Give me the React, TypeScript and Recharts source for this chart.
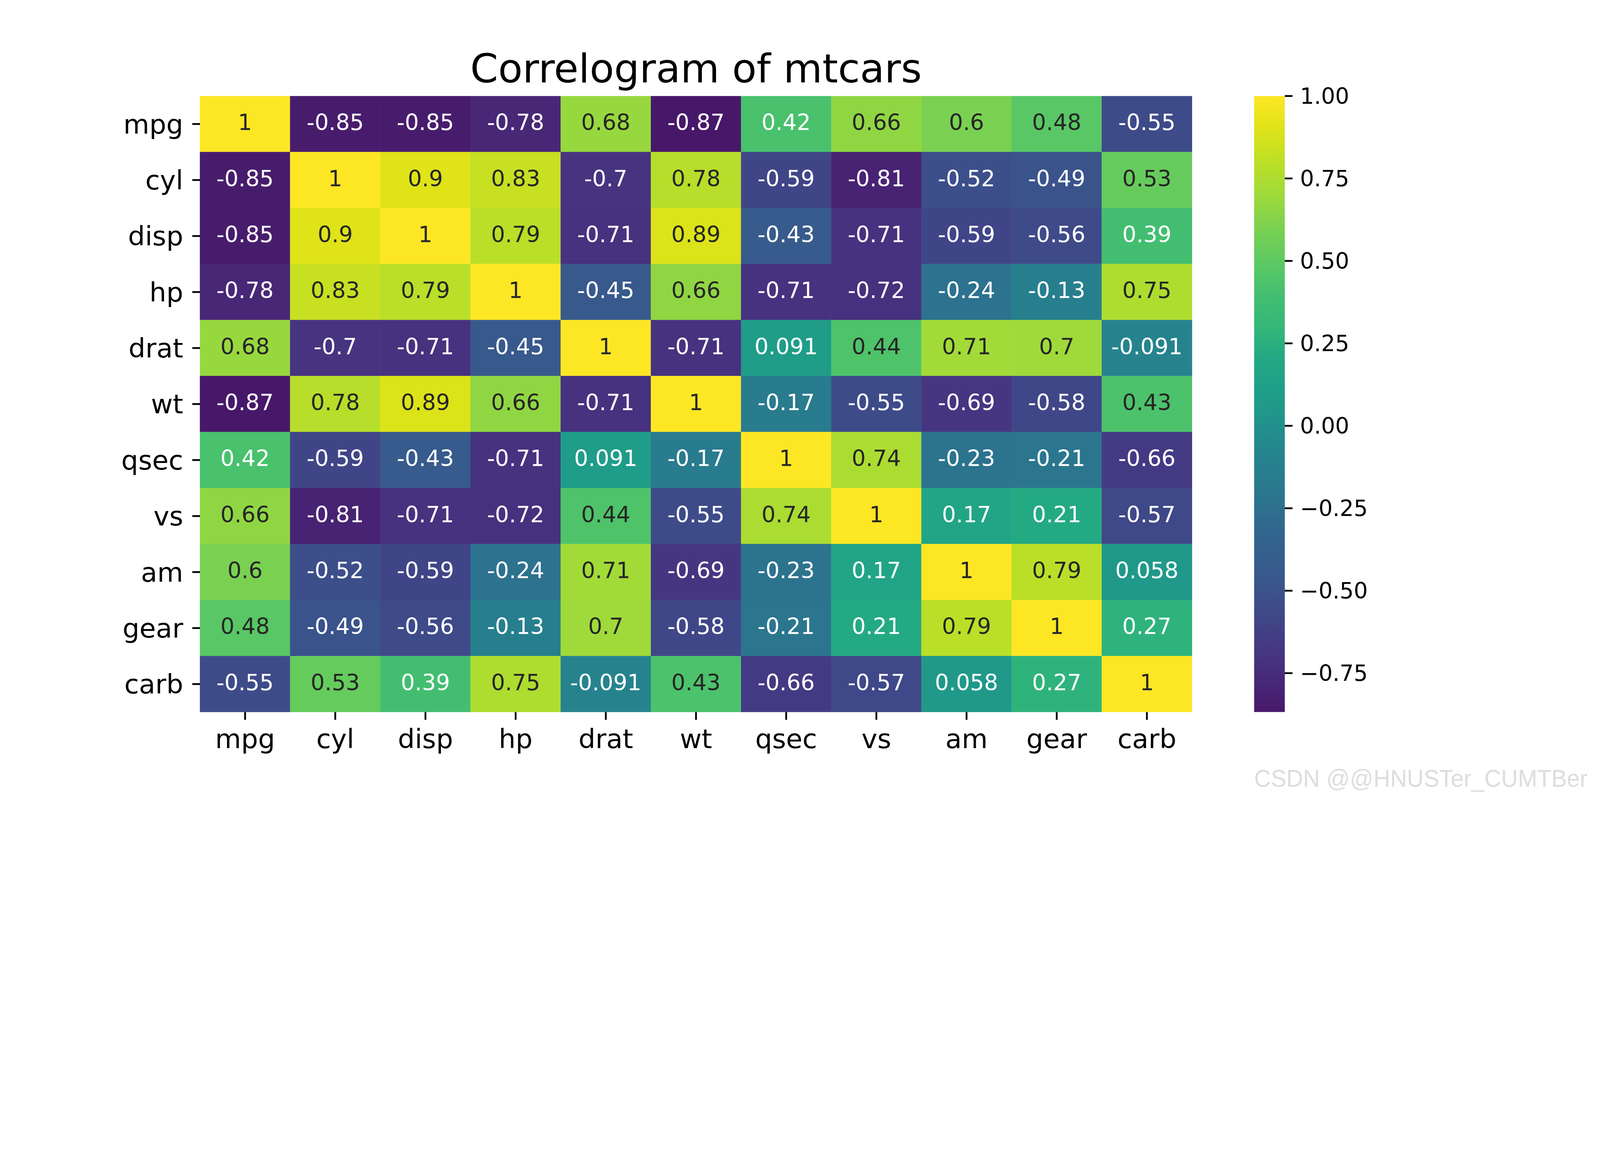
import React from 'react';
import { BarChart, Bar, XAxis, YAxis } from 'recharts';

// variable names, same order for rows and columns
const labels = ['mpg', 'cyl', 'disp', 'hp', 'drat', 'wt', 'qsec', 'vs', 'am', 'gear', 'carb'];

// correlation rows as printed in the cells
const mpgRow = [1, -0.85, -0.85, -0.78, 0.68, -0.87, 0.42, 0.66, 0.6, 0.48, -0.55];
const cylRow = [-0.85, 1, 0.9, 0.83, -0.7, 0.78, -0.59, -0.81, -0.52, -0.49, 0.53];
const dispRow = [-0.85, 0.9, 1, 0.79, -0.71, 0.89, -0.43, -0.71, -0.59, -0.56, 0.39];
const hpRow = [-0.78, 0.83, 0.79, 1, -0.45, 0.66, -0.71, -0.72, -0.24, -0.13, 0.75];
const dratRow = [0.68, -0.7, -0.71, -0.45, 1, -0.71, 0.091, 0.44, 0.71, 0.7, -0.091];
const wtRow = [-0.87, 0.78, 0.89, 0.66, -0.71, 1, -0.17, -0.55, -0.69, -0.58, 0.43];
const qsecRow = [0.42, -0.59, -0.43, -0.71, 0.091, -0.17, 1, 0.74, -0.23, -0.21, -0.66];
const vsRow = [0.66, -0.81, -0.71, -0.72, 0.44, -0.55, 0.74, 1, 0.17, 0.21, -0.57];
const amRow = [0.6, -0.52, -0.59, -0.24, 0.71, -0.69, -0.23, 0.17, 1, 0.79, 0.058];
const gearRow = [0.48, -0.49, -0.56, -0.13, 0.7, -0.58, -0.21, 0.21, 0.79, 1, 0.27];
const carbRow = [-0.55, 0.53, 0.39, 0.75, -0.091, 0.43, -0.66, -0.57, 0.058, 0.27, 1];

const corr = [mpgRow, cylRow, dispRow, hpRow, dratRow, wtRow, qsecRow, vsRow, amRow, gearRow, carbRow];

// colour bar range and ticks
const VMIN = -0.868;
const VMAX = 1;
const cbTicks = [-0.75, -0.5, -0.25, 0, 0.25, 0.5, 0.75, 1];

// colormap is centred on 0, so colours run over [-1, 1]
const CMAP_LO = -1;
const CMAP_HI = 1;

// viridis, sampled every 0.05
const viridis = [
  '#440154', '#471365', '#482475', '#463480', '#414487', '#3b528b', '#355f8d',
  '#31688e', '#2a788e', '#26828e', '#21918c', '#1f9e89', '#22a884', '#35b779',
  '#44bf70', '#5ec962', '#7ad151', '#9fda3a', '#bddf26', '#dfe318', '#fde725',
];

const hexToRgb = (h: string) => [1, 3, 5].map((i) => parseInt(h.slice(i, i + 2), 16));

const colorFor = (v: number) => {
  let t = (v - CMAP_LO) / (CMAP_HI - CMAP_LO);
  t = Math.max(0, Math.min(1, t));
  const pos = t * (viridis.length - 1);
  const i = Math.min(Math.floor(pos), viridis.length - 2);
  const f = pos - i;
  const a = hexToRgb(viridis[i]);
  const b = hexToRgb(viridis[i + 1]);
  const c = a.map((x, k) => Math.round(x + (b[k] - x) * f));
  return `rgb(${c[0]},${c[1]},${c[2]})`;
};

// gradient stops for the colour bar, bottom (VMIN) to top (VMAX)
const CB_STEPS = 40;
const cbStops = Array.from({ length: CB_STEPS + 1 }, (_, i) => {
  const f = i / CB_STEPS;
  return { offset: f, color: colorFor(VMIN + (VMAX - VMIN) * f) };
});

// light cells get dark numbers
const DARK_TEXT_FROM = 0.425;

const FONT = '"DejaVu Sans", sans-serif';

const heatData = labels.map((col) => {
  const d: any = { name: col };
  labels.forEach((r) => { d[r] = 1; });
  return d;
});

const cbData = [{ name: 'cb', range: [VMIN, VMAX] }];

const makeCell = (rowIdx: number) => (props: any) => {
  const { x, y, width, height, index } = props;
  const v = corr[rowIdx][index];
  const fill = colorFor(v);
  const top = Math.min(y, y + height);
  const h = Math.abs(height);
  return (
    <g>
      <rect x={x} y={top} width={width} height={h} fill={fill} stroke={fill} strokeWidth={1} />
      <text
        x={x + width / 2}
        y={top + h / 2 + 23}
        textAnchor="middle"
        fontSize={83}
        fontFamily={FONT}
        fill={v > DARK_TEXT_FROM ? '#262626' : '#ffffff'}
      >
        {String(v)}
      </text>
    </g>
  );
};

const fmtCb = (v: number) => v.toFixed(2).replace('-', '\u2212');

export default function App() {
  // the browser may be narrower than 6000px, so shrink the whole figure to fit
  const vw = typeof window !== 'undefined' ? window.innerWidth : 6000;
  const vh = typeof window !== 'undefined' ? window.innerHeight : 3000;
  const s = Math.min(1, vw / 6000, vh / 3000);
  return (
    <div style={{ position: 'absolute', left: 0, top: 0, width: 6000 * s, height: 3000 * s, overflow: 'hidden', background: '#fff' }}>
      <div style={{ position: 'absolute', left: 0, top: 0, width: 6000, height: 3000, transform: `scale(${s})`, transformOrigin: '0 0', fontFamily: FONT }}>
        <div style={{ position: 'absolute', left: 0, top: 0 }}>
          <BarChart
            width={6000}
            height={3000}
            data={heatData}
            margin={{ top: 360, right: 1530, bottom: 0, left: 0 }}
            barCategoryGap={0}
            barGap={0}
          >
            <XAxis
              dataKey="name"
              type="category"
              interval={0}
              height={330}
              axisLine={false}
              tickSize={29}
              tickMargin={35}
              tickLine={{ stroke: '#000', strokeWidth: 6.7 }}
              tick={{ fontSize: 100, fill: '#000', fontFamily: FONT }}
            />
            <YAxis
              type="number"
              domain={[0, labels.length]}
              reversed
              allowDataOverflow
              ticks={labels.map((_, i) => i + 0.5)}
              interval={0}
              tickFormatter={(v: number) => labels[Math.floor(v)]}
              width={750}
              axisLine={false}
              tickSize={29}
              tickMargin={34}
              tickLine={{ stroke: '#000', strokeWidth: 6.7 }}
              tick={{ fontSize: 100, fill: '#000', fontFamily: FONT }}
            />
            {labels.map((r, j) => (
              <Bar key={r} dataKey={r} stackId="a" isAnimationActive={false} shape={makeCell(j)} />
            ))}
          </BarChart>
        </div>

        <div style={{ position: 'absolute', left: 0, top: 0 }}>
          <BarChart
            width={6000}
            height={3000}
            data={cbData}
            margin={{ top: 360, right: 0, bottom: 330, left: 4703 }}
            barCategoryGap={0}
          >
            <defs>
              <linearGradient id="viridisGrad" x1="0" y1="1" x2="0" y2="0">
                {cbStops.map((st, i) => (
                  <stop key={i} offset={st.offset} stopColor={st.color} />
                ))}
              </linearGradient>
            </defs>
            <XAxis dataKey="name" hide />
            <YAxis
              type="number"
              orientation="right"
              domain={[VMIN, VMAX]}
              allowDataOverflow
              ticks={cbTicks}
              interval={0}
              tickFormatter={fmtCb}
              width={1182}
              axisLine={false}
              tickSize={29}
              tickMargin={28}
              tickLine={{ stroke: '#000', strokeWidth: 6.7 }}
              tick={{ fontSize: 83, fill: '#000', fontFamily: FONT }}
            />
            <Bar dataKey="range" fill="url(#viridisGrad)" isAnimationActive={false} />
          </BarChart>
        </div>

        <svg width={6000} height={3000} style={{ position: 'absolute', left: 0, top: 0, pointerEvents: 'none' }}>
          <text x={2610} y={309} textAnchor="middle" fontSize={150} fontFamily={FONT} fill="#000">
            Correlogram of mtcars
          </text>
          <text
            x={4703}
            y={2950}
            fontSize={92}
            textLength={1250}
            lengthAdjust="spacingAndGlyphs"
            fontFamily='"Liberation Sans", Arial, sans-serif'
            fill="#dddddd"
          >
            CSDN @@HNUSTer_CUMTBer
          </text>
        </svg>
      </div>
    </div>
  );
}
